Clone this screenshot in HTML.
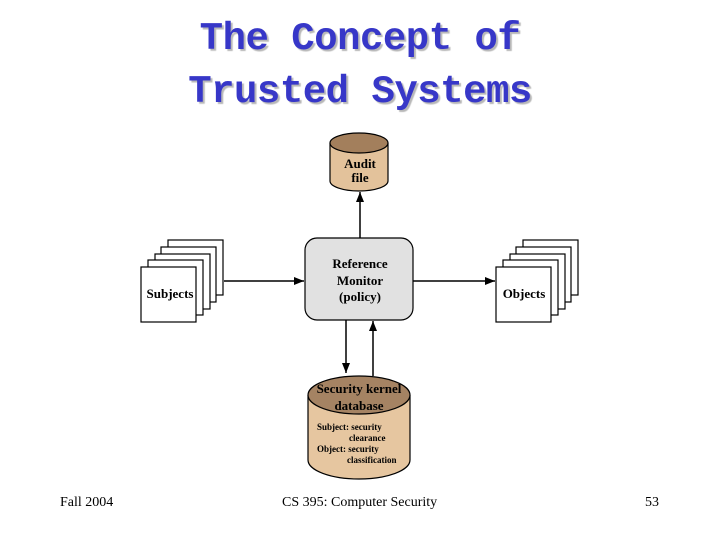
<!DOCTYPE html>
<html><head><style>
body{margin:0;width:720px;height:540px;background:#fff;overflow:hidden;position:relative}
.t{position:absolute;left:0;width:720px;text-align:center;font:bold 39px "Liberation Mono",monospace;color:#3737c8;text-shadow:2px 2px 1px #b8b8b8;letter-spacing:-0.5px}
.f{position:absolute;top:495px;font:14px "Liberation Serif",serif;color:#000}
</style></head><body>
<div class="t" style="top:17px">The Concept of</div>
<div class="t" style="top:70px">Trusted Systems</div>
<svg width="720" height="540" style="position:absolute;left:0;top:0" font-family="Liberation Serif,serif" font-weight="bold">
<defs><marker id="a" markerWidth="10" markerHeight="8" refX="10" refY="4" orient="auto" markerUnits="userSpaceOnUse"><path d="M0,0L10,4L0,8z" fill="#000"/></marker></defs>
<g stroke="#000" stroke-width="1.5" fill="none">
<line x1="224" y1="281" x2="304" y2="281" marker-end="url(#a)"/>
<line x1="413" y1="281" x2="495" y2="281" marker-end="url(#a)"/>
<line x1="360" y1="238" x2="360" y2="192" marker-end="url(#a)"/>
<line x1="346" y1="320" x2="346" y2="373" marker-end="url(#a)"/>
<line x1="373" y1="376" x2="373" y2="321" marker-end="url(#a)"/>
</g>
<path d="M330,143 V181 A29,10 0 0 0 388,181 V143" fill="#e3c29b" stroke="#000" stroke-width="1.2"/>
<ellipse cx="359" cy="143" rx="29" ry="10" fill="#a37f5c" stroke="#000" stroke-width="1.2"/>
<text x="360" y="168" font-size="13" text-anchor="middle">Audit</text>
<text x="360" y="182" font-size="13" text-anchor="middle">file</text>
<rect x="305" y="238" width="108" height="82" rx="12" fill="#e1e1e1" stroke="#000" stroke-width="1.2"/>
<text x="360" y="268" font-size="13" text-anchor="middle">Reference</text>
<text x="360" y="285" font-size="13" text-anchor="middle">Monitor</text>
<text x="360" y="301" font-size="13" text-anchor="middle">(policy)</text>
<g fill="#fff" stroke="#000" stroke-width="1.2">
<rect x="168" y="240" width="55" height="55"/><rect x="161" y="247" width="55" height="55"/><rect x="155" y="254" width="55" height="55"/><rect x="148" y="260" width="55" height="55"/><rect x="141" y="267" width="55" height="55"/>
<rect x="523" y="240" width="55" height="55"/><rect x="516" y="247" width="55" height="55"/><rect x="510" y="254" width="55" height="55"/><rect x="503" y="260" width="55" height="55"/><rect x="496" y="267" width="55" height="55"/>
</g>
<text x="170" y="298" font-size="13" text-anchor="middle">Subjects</text>
<text x="524" y="298" font-size="13" text-anchor="middle">Objects</text>
<path d="M308,395 V460 A51,19 0 0 0 410,460 V395" fill="#e6c6a0" stroke="#000" stroke-width="1.2"/>
<ellipse cx="359" cy="395" rx="51" ry="19" fill="#a58363" stroke="#000" stroke-width="1.2"/>
<text x="359" y="393" font-size="13" text-anchor="middle">Security kernel</text>
<text x="359" y="410" font-size="13" text-anchor="middle">database</text>
<g font-size="9">
<text x="317" y="430">Subject: security</text>
<text x="349" y="441">clearance</text>
<text x="317" y="452">Object: security</text>
<text x="347" y="463">classification</text>
</g>
</svg>
<div class="f" style="left:60px">Fall 2004</div>
<div class="f" style="left:282px">CS 395: Computer Security</div>
<div class="f" style="left:645px">53</div>
</body></html>
